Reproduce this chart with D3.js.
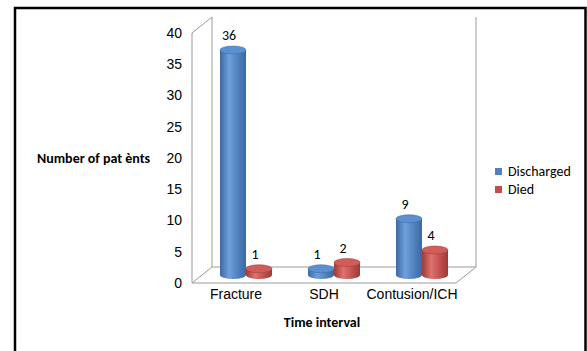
<!DOCTYPE html>
<html>
<head>
<meta charset="utf-8">
<script src="https://cdn.jsdelivr.net/npm/d3@7"></script>
<style>
	html, body { margin: 0; padding: 0; background: #fff; }
	svg { display: block; font-family: Carlito, Calibri, Lato, sans-serif; }
	.tick text { font-size: 14px; fill: #000; }
</style>
</head>
<body>
<svg id="chart" width="587" height="351"></svg>
<script>
// chart data
const categories = ['Fracture', 'SDH', 'Contusion/ICH'];
const series = ['Discharged', 'Died'];
const discharged = [36, 1, 9];
const died = [1, 2, 4];
const yTicks = [0, 5, 10, 15, 20, 25, 30, 35, 40];

const colors = {
	Discharged: {base: '#4f81bd', dark: '#3a68a3', light: '#6fa0de', top: '#5b8fd0'},
	Died: {base: '#c0504d', dark: '#9c3a37', light: '#e0716d', top: '#d05d59'}
};

const svg = d3.select('#chart');

// outer frame (bottom edge is cut off by the picture)
svg.append('path')
	.attr('d', 'M15,352 V8 H585.5 V352')
	.attr('fill', 'none')
	.attr('stroke', '#000')
	.attr('stroke-width', 2.5);

// front plane of the 3d box
const front = {left: 192, right: 456, top: 33, bottom: 283};
const depth = {dx: 20, dy: -16};

const x = d3.scaleBand()
	.domain(categories)
	.range([front.left, front.right]);

const y = d3.scaleLinear()
	.domain([0, 40])
	.range([front.bottom, front.top]);

const xInner = d3.scaleBand()
	.domain(series)
	.range([-26, 26]);

// gradients for the cylinders
const defs = svg.append('defs');
series.forEach((s) => {
	const g = defs.append('linearGradient')
		.attr('id', `grad-${s}`)
		.attr('x1', '0%').attr('x2', '100%')
		.attr('y1', '0%').attr('y2', '0%');
	g.append('stop').attr('offset', '0%').attr('stop-color', colors[s].dark);
	g.append('stop').attr('offset', '35%').attr('stop-color', colors[s].light);
	g.append('stop').attr('offset', '70%').attr('stop-color', colors[s].base);
	g.append('stop').attr('offset', '100%').attr('stop-color', colors[s].dark);
});

// box outline: back wall edges and floor
const boxColor = '#9a9a9a';
const bx = front.left + depth.dx, by = front.top + depth.dy;
const outline = [
	[[front.left, front.top], [front.left, front.bottom]],
	[[front.left, front.top], [bx, by]],
	[[bx, by], [bx, front.bottom + depth.dy]],
	[[front.left, front.bottom], [front.right, front.bottom]],
	[[front.left, front.bottom], [bx, front.bottom + depth.dy]],
	[[bx, front.bottom + depth.dy], [front.right + depth.dx, front.bottom + depth.dy]],
	[[front.right, front.bottom], [front.right + depth.dx, front.bottom + depth.dy]],
	[[front.right + depth.dx, front.bottom + depth.dy], [front.right + depth.dx, by]]
];
svg.append('g')
	.selectAll('line')
	.data(outline)
	.enter()
	.append('line')
	.attr('x1', (d) => d[0][0]).attr('y1', (d) => d[0][1])
	.attr('x2', (d) => d[1][0]).attr('y2', (d) => d[1][1])
	.attr('stroke', boxColor)
	.attr('stroke-width', 1);

// axes
svg.append('g')
	.attr('transform', `translate(${front.left},0)`)
	.call(d3.axisLeft(y).tickValues(yTicks).tickSize(0).tickPadding(10))
	.call((g) => g.select('.domain').remove());

svg.append('g')
	.attr('transform', `translate(0,${front.bottom})`)
	.call(d3.axisBottom(x).tickSize(0).tickPadding(6))
	.call((g) => g.select('.domain').remove());

// cylinders, placed at mid depth
const midX = depth.dx / 2, midY = depth.dy / 2;
const rx = 13, ry = 4;
const bars = [];
categories.forEach((c, i) => {
	bars.push({cat: c, s: 'Discharged', v: discharged[i]});
	bars.push({cat: c, s: 'Died', v: died[i]});
});

const barG = svg.append('g');
bars.forEach((b) => {
	const cx = x(b.cat) + x.bandwidth() / 2 + midX + xInner(b.s) + xInner.bandwidth() / 2;
	const yb = y(0) + midY;
	const yt = y(b.v) + midY;
	const g = barG.append('g');
	g.append('path')
		.attr('d', `M${cx - rx},${yt} L${cx - rx},${yb} A${rx},${ry} 0 0 0 ${cx + rx},${yb} L${cx + rx},${yt} Z`)
		.attr('fill', `url(#grad-${b.s})`);
	g.append('ellipse')
		.attr('cx', cx).attr('cy', yt)
		.attr('rx', rx).attr('ry', ry)
		.attr('fill', colors[b.s].top)
		.attr('stroke', colors[b.s].dark)
		.attr('stroke-width', 0.5);
	g.append('text')
		.attr('x', cx - 4)
		.attr('y', yt - 10)
		.attr('text-anchor', 'middle')
		.attr('font-size', 14)
		.text(b.v);
});

// axis titles
svg.append('text')
	.attr('x', 37).attr('y', 163)
	.attr('font-size', 14).attr('font-weight', 'bold')
	.text('Number of pat ènts');

svg.append('text')
	.attr('x', 322).attr('y', 327)
	.attr('text-anchor', 'middle')
	.attr('font-size', 14).attr('font-weight', 'bold')
	.text('Time interval');

// legend
const legend = svg.append('g').attr('transform', 'translate(495,168)');
series.forEach((s, i) => {
	const row = legend.append('g').attr('transform', `translate(0,${i * 18})`);
	row.append('rect')
		.attr('width', 7).attr('height', 7)
		.attr('fill', colors[s].base);
	row.append('text')
		.attr('x', 13).attr('y', 8)
		.attr('font-size', 14)
		.text(s);
});
</script>
</body>
</html>
